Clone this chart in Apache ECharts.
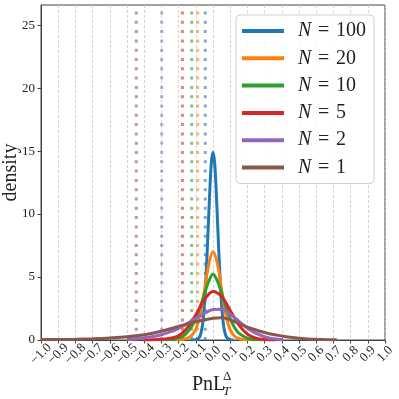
<!DOCTYPE html>
<html><head><meta charset="utf-8">
<script src="https://cdn.jsdelivr.net/npm/echarts@6/dist/echarts.min.js"></script>
<style>html,body{margin:0;padding:0;background:#fff}#c{width:399px;height:399px}</style>
</head><body><div id="c"></div>
<script>
const seriesNames = ['N = 100', 'N = 20', 'N = 10', 'N = 5', 'N = 2', 'N = 1'];
const colors = ['#1f77b4', '#ff7f0e', '#2ca02c', '#d62728', '#9467bd', '#8c564b'];
// vertical dotted reference lines (one per N)
const refLineX = [-0.045, -0.089, -0.124, -0.178, -0.298, -0.446];

const n100X = [-0.13,-0.1,-0.08,-0.07,-0.06,-0.05,-0.04,-0.03,-0.02,-0.01,0,0.01,0.02,0.03,0.04,0.05,0.06,0.07,0.08,0.1,0.12];
const n100Y = [0,0.03,0.2,0.55,1.3,2.8,5.2,8.2,11.4,14.0,14.9,14.0,11.4,8.2,5.2,2.8,1.3,0.55,0.2,0.03,0];
const n20X = [-0.22,-0.18,-0.15,-0.125,-0.1,-0.075,-0.05,-0.025,0,0.025,0.05,0.075,0.1,0.125,0.15,0.18,0.23];
const n20Y = [0,0.04,0.14,0.35,0.85,2.0,3.9,6.0,7.0,6.1,4.0,2.0,0.8,0.3,0.12,0.03,0];
const n10X = [-0.31,-0.25,-0.2,-0.175,-0.15,-0.125,-0.1,-0.075,-0.05,-0.025,0,0.025,0.05,0.075,0.1,0.125,0.15,0.2,0.25,0.31];
const n10Y = [0,0.04,0.15,0.3,0.6,1.05,1.7,2.6,3.65,4.65,5.24,4.7,3.75,2.65,1.7,1.0,0.55,0.14,0.03,0];
const n5X = [-0.41,-0.35,-0.3,-0.25,-0.2,-0.15,-0.1,-0.05,0,0.05,0.1,0.15,0.2,0.25,0.3,0.37];
const n5Y = [0,0.02,0.06,0.14,0.33,0.95,2.0,3.2,3.85,3.45,2.35,1.2,0.47,0.15,0.04,0];
const n2X = [-0.5,-0.45,-0.4,-0.35,-0.3,-0.25,-0.2,-0.15,-0.1,-0.05,0,0.05,0.1,0.15,0.2,0.25,0.3,0.35,0.41];
const n2Y = [0.03,0.08,0.17,0.27,0.42,0.64,0.93,1.3,1.72,2.12,2.42,2.45,2.05,1.5,0.93,0.52,0.26,0.1,0.02];
const n1X = [-1.0,-0.9,-0.8,-0.7,-0.6,-0.5,-0.4,-0.3,-0.2,-0.1,0,0.05,0.1,0.15,0.2,0.25,0.3,0.35,0.4,0.45,0.5,0.55,0.6,0.65,0.72];
const n1Y = [0.03,0.04,0.06,0.1,0.16,0.25,0.42,0.7,1.08,1.45,1.72,1.76,1.6,1.32,1.02,0.79,0.6,0.44,0.32,0.21,0.13,0.08,0.05,0.03,0.01];

const yTicks = [0, 5, 10, 15, 20, 25];
const xEndTicks = [-1, 1];
const yMax = 26.6;

const curvesX = [n100X, n20X, n10X, n5X, n2X, n1X];
const curvesY = [n100Y, n20Y, n10Y, n5Y, n2Y, n1Y];

const SERIF = '"Liberation Serif", "DejaVu Serif", serif';
const series = [];
refLineX.forEach((x, i) => {
  series.push({
    type: 'line', name: 'ref' + i, data: [[x, 0], [x, yMax]], symbol: 'none', silent: true,
    lineStyle: { color: colors[i], width: 3, type: [3, 6.3], opacity: 0.6 }, z: 1
  });
});
curvesX.forEach((xs, i) => {
  series.push({
    type: 'line', name: seriesNames[i], data: xs.map((x, j) => [x, curvesY[i][j]]),
    symbol: 'none', smooth: 0.35, lineStyle: { color: colors[i], width: 3 }, itemStyle: { color: colors[i] }, z: 3
  });
});

const fmtX = v => { const s = Math.abs(v).toFixed(1); return (v < -1e-9 ? '\u2212' : '') + s; };
const xLabelStyle = { rotate: 45, align: 'center', verticalAlign: 'middle', formatter: fmtX, fontFamily: SERIF, fontSize: 13, color: '#222', margin: 14 };

const chart = echarts.init(document.getElementById('c'), null, { renderer: 'canvas' });
chart.setOption({
  animation: false,
  backgroundColor: '#fff',
  grid: { left: 41, right: 14, top: 5, bottom: 59, containLabel: false, outerBoundsMode: 'none',
    show: true, borderColor: '#444', borderWidth: 1, backgroundColor: 'transparent' },
  xAxis: [{
    type: 'value', min: -1, max: 1, interval: 0.1, position: 'bottom',
    axisLine: { show: true, onZero: false, lineStyle: { color: '#444', width: 1 } },
    axisTick: { show: true, length: 3.5, lineStyle: { color: '#444' } },
    axisLabel: Object.assign({ interval: 0, showMinLabel: false, showMaxLabel: false }, xLabelStyle),
    splitLine: { show: true, lineStyle: { color: '#c8c8c8', type: [3, 2], width: 0.8 } }
  }, {
    type: 'value', min: -1, max: 1, position: 'bottom',
    axisLine: { show: false },
    axisTick: { show: true, length: 3.5, lineStyle: { color: '#444' }, customValues: xEndTicks },
    axisLabel: Object.assign({ customValues: xEndTicks }, xLabelStyle),
    splitLine: { show: false }
  }],
  yAxis: [{
    type: 'value', min: 0, max: yMax, interval: 5,
    axisLine: { show: true, onZero: false, lineStyle: { color: '#444', width: 1 } },
    axisTick: { show: true, length: 3.5, lineStyle: { color: '#444' }, customValues: yTicks },
    axisLabel: { fontFamily: SERIF, fontSize: 13, color: '#222', margin: 6, customValues: yTicks },
    splitLine: { show: false },
    name: 'density', nameLocation: 'middle', nameGap: 20, nameRotate: 90, nameMoveOverlap: false,
    nameTextStyle: { fontFamily: SERIF, fontSize: 20, color: '#222' }
  }],
  legend: {
    data: seriesNames, orient: 'vertical', left: 236, top: 15,
    padding: [6, 8, 6, 6], itemGap: 7.3, itemWidth: 42, itemHeight: 4, icon: 'rect',
    backgroundColor: 'rgba(255,255,255,0.85)', borderColor: '#d0d0d0', borderWidth: 1, borderRadius: 4,
    formatter: name => '{i|N}\u2004=\u2004' + name.slice(4),
    textStyle: { fontFamily: SERIF, fontSize: 20, color: '#222', lineHeight: 20,
      rich: { i: { fontFamily: SERIF, fontStyle: 'italic', fontSize: 20, color: '#222', padding: [0, 0, 0, 9] } } }
  },
  graphic: [
    { type: 'text', left: 192, top: 375, style: { text: 'PnL', font: '20px ' + SERIF, fill: '#222' } },
    { type: 'text', left: 223, top: 370, style: { text: '\u0394', font: '13px ' + SERIF, fill: '#222' } },
    { type: 'text', left: 223, top: 385, style: { text: 'T', font: 'italic 13px ' + SERIF, fill: '#222' } }
  ],
  series: series
});
</script></body></html>
